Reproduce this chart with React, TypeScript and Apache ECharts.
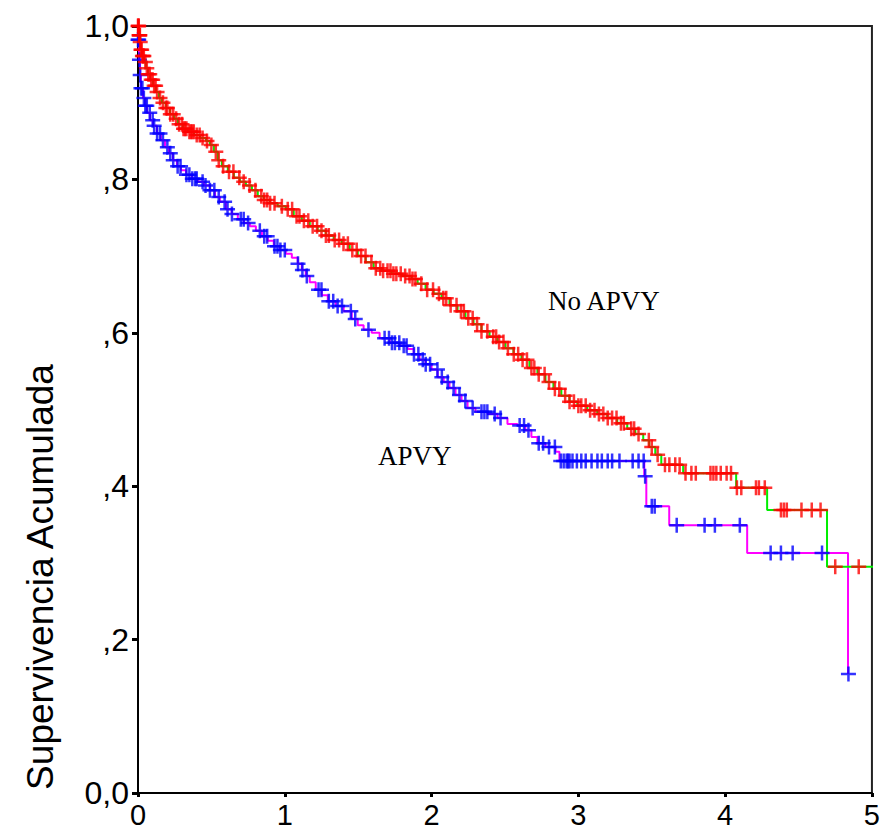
import React, { useEffect, useRef } from "react";
import * as echarts from "echarts";

// Kaplan-Meier step vertices: time (years) and cumulative survival after that time
const noApvyTimes = [0, 0.007, 0.014, 0.02, 0.027, 0.041, 0.054, 0.068, 0.082, 0.102, 0.122, 0.143, 0.163, 0.19, 0.218, 0.245, 0.272, 0.306, 0.34, 0.381, 0.422, 0.463, 0.49, 0.517, 0.544, 0.571, 0.612, 0.653, 0.694, 0.735, 0.776, 0.816, 0.857, 0.898, 0.952, 1.007, 1.061, 1.116, 1.17, 1.224, 1.279, 1.333, 1.388, 1.442, 1.497, 1.551, 1.605, 1.66, 1.728, 1.796, 1.864, 1.905, 1.959, 2.014, 2.068, 2.122, 2.177, 2.231, 2.286, 2.34, 2.395, 2.449, 2.503, 2.558, 2.612, 2.667, 2.721, 2.776, 2.83, 2.884, 2.939, 2.993, 3.061, 3.129, 3.197, 3.265, 3.333, 3.388, 3.442, 3.483, 3.524, 3.565, 3.714, 4.075, 4.286, 4.694, 5.068];
const noApvySurv = [1.0, 0.988, 0.979, 0.969, 0.961, 0.953, 0.945, 0.937, 0.93, 0.922, 0.914, 0.906, 0.9, 0.893, 0.885, 0.879, 0.872, 0.866, 0.862, 0.858, 0.854, 0.85, 0.845, 0.836, 0.825, 0.817, 0.81, 0.802, 0.797, 0.792, 0.786, 0.778, 0.773, 0.769, 0.765, 0.761, 0.752, 0.746, 0.739, 0.733, 0.727, 0.721, 0.716, 0.708, 0.7, 0.692, 0.684, 0.681, 0.677, 0.674, 0.67, 0.664, 0.656, 0.651, 0.645, 0.636, 0.628, 0.619, 0.611, 0.602, 0.595, 0.588, 0.58, 0.572, 0.565, 0.554, 0.546, 0.536, 0.527, 0.518, 0.51, 0.505, 0.499, 0.494, 0.489, 0.482, 0.475, 0.468, 0.46, 0.451, 0.441, 0.428, 0.417, 0.398, 0.369, 0.295, 0.295];

const apvyTimes = [0, 0, 0.007, 0.014, 0.02, 0.034, 0.048, 0.061, 0.082, 0.102, 0.129, 0.156, 0.184, 0.211, 0.238, 0.265, 0.293, 0.327, 0.367, 0.408, 0.449, 0.49, 0.524, 0.558, 0.599, 0.639, 0.68, 0.721, 0.762, 0.803, 0.844, 0.884, 0.925, 0.966, 1.007, 1.048, 1.088, 1.116, 1.143, 1.17, 1.211, 1.252, 1.293, 1.347, 1.401, 1.456, 1.497, 1.537, 1.592, 1.646, 1.714, 1.782, 1.837, 1.878, 1.918, 1.959, 2.0, 2.041, 2.082, 2.122, 2.163, 2.204, 2.245, 2.299, 2.381, 2.449, 2.517, 2.585, 2.639, 2.68, 2.721, 2.776, 2.844, 2.871, 3.449, 3.463, 3.619, 4.15, 4.837];
const apvySurv = [1.0, 0.982, 0.956, 0.936, 0.919, 0.906, 0.896, 0.887, 0.877, 0.87, 0.86, 0.851, 0.842, 0.834, 0.825, 0.817, 0.812, 0.806, 0.801, 0.797, 0.792, 0.786, 0.777, 0.771, 0.761, 0.755, 0.748, 0.743, 0.739, 0.733, 0.726, 0.72, 0.713, 0.708, 0.703, 0.698, 0.69, 0.682, 0.674, 0.666, 0.656, 0.649, 0.641, 0.635, 0.628, 0.618, 0.61, 0.604, 0.6, 0.593, 0.587, 0.583, 0.579, 0.572, 0.565, 0.559, 0.552, 0.542, 0.536, 0.528, 0.519, 0.511, 0.502, 0.497, 0.494, 0.489, 0.481, 0.479, 0.473, 0.464, 0.456, 0.451, 0.445, 0.433, 0.413, 0.374, 0.349, 0.313, 0.155];

// Censored observation times
const noApvyCensored = [0, 0.003, 0.005, 0.007, 0.01, 0.013, 0.015, 0.02, 0.025, 0.03, 0.035, 0.04, 0.05, 0.06, 0.07, 0.08, 0.09, 0.1, 0.11, 0.12, 0.13, 0.15, 0.17, 0.19, 0.2, 0.22, 0.24, 0.26, 0.28, 0.3, 0.31, 0.32, 0.33, 0.35, 0.36, 0.37, 0.38, 0.4, 0.42, 0.44, 0.47, 0.5, 0.53, 0.55, 0.58, 0.62, 0.65, 0.69, 0.72, 0.76, 0.8, 0.84, 0.86, 0.88, 0.9, 0.93, 0.98, 1.02, 1.05, 1.08, 1.1, 1.13, 1.16, 1.19, 1.22, 1.25, 1.28, 1.3, 1.34, 1.37, 1.4, 1.43, 1.46, 1.49, 1.52, 1.55, 1.59, 1.62, 1.65, 1.67, 1.7, 1.72, 1.74, 1.76, 1.79, 1.82, 1.85, 1.87, 1.89, 1.93, 1.97, 2.01, 2.05, 2.08, 2.1, 2.13, 2.17, 2.2, 2.22, 2.25, 2.28, 2.31, 2.34, 2.38, 2.42, 2.44, 2.46, 2.49, 2.52, 2.56, 2.59, 2.62, 2.65, 2.68, 2.7, 2.73, 2.77, 2.8, 2.84, 2.87, 2.91, 2.94, 2.97, 3.0, 3.02, 3.05, 3.08, 3.11, 3.14, 3.17, 3.2, 3.23, 3.26, 3.29, 3.31, 3.36, 3.38, 3.41, 3.48, 3.5, 3.54, 3.59, 3.62, 3.66, 3.69, 3.73, 3.77, 3.8, 3.9, 3.92, 3.94, 3.97, 4.01, 4.04, 4.08, 4.11, 4.21, 4.23, 4.27, 4.38, 4.4, 4.42, 4.52, 4.59, 4.65, 4.75, 4.91];
const apvyCensored = [0, 0.005, 0.01, 0.015, 0.02, 0.03, 0.04, 0.05, 0.06, 0.08, 0.1, 0.11, 0.13, 0.15, 0.17, 0.2, 0.22, 0.24, 0.27, 0.29, 0.33, 0.35, 0.37, 0.39, 0.4, 0.44, 0.46, 0.49, 0.52, 0.55, 0.59, 0.61, 0.64, 0.7, 0.72, 0.75, 0.83, 0.86, 0.88, 0.93, 0.95, 0.97, 1.0, 1.09, 1.12, 1.15, 1.23, 1.25, 1.3, 1.33, 1.36, 1.39, 1.45, 1.48, 1.57, 1.68, 1.71, 1.73, 1.75, 1.78, 1.81, 1.83, 1.88, 1.91, 1.94, 1.96, 1.99, 2.04, 2.07, 2.11, 2.15, 2.19, 2.23, 2.28, 2.34, 2.36, 2.38, 2.43, 2.47, 2.6, 2.63, 2.66, 2.73, 2.76, 2.8, 2.84, 2.88, 2.9, 2.92, 2.93, 2.94, 2.96, 2.99, 3.02, 3.05, 3.09, 3.13, 3.16, 3.2, 3.23, 3.28, 3.37, 3.41, 3.445, 3.455, 3.5, 3.52, 3.67, 3.86, 3.93, 4.1, 4.31, 4.38, 4.46, 4.66, 4.84];

const xTickValues = [0, 1, 2, 3, 4, 5];
const yTickLabels = ["0,0", ",2", ",4", ",6", ",8", "1,0"];
const groupLabels = ["No APVY", "APVY"];
const yTitle = "Supervivencia Acumulada";

const PLUS = "path://M-1.25,-7.5L1.25,-7.5L1.25,-1.25L7.5,-1.25L7.5,1.25L1.25,1.25L1.25,7.5L-1.25,7.5L-1.25,1.25L-7.5,1.25L-7.5,-1.25L-1.25,-1.25Z";

function survAt(times: number[], surv: number[], t: number): number {
  let v = surv[0];
  for (let i = 0; i < times.length; i++) {
    if (times[i] <= t) v = surv[i];
    else break;
  }
  return v;
}

export default function App() {
  const ref = useRef<HTMLDivElement>(null);
  useEffect(() => {
    if (!ref.current) return;
    const chart = echarts.init(ref.current, null, { renderer: "svg" });
    const sans = "'Liberation Sans', Arial, sans-serif";
    const serif = "'Liberation Serif', 'Times New Roman', serif";
    const option: any = {
      animation: false,
      backgroundColor: "#ffffff",
      grid: {
        left: 138,
        right: 9,
        top: 26,
        bottom: 41,
        show: true,
        borderColor: "#222",
        borderWidth: 2,
        backgroundColor: "transparent",
      },
      xAxis: {
        type: "value",
        min: 0,
        max: 5,
        interval: 1,
        axisLine: { show: true, onZero: false, lineStyle: { color: "#000", width: 2 } },
        axisTick: { show: true, length: 4, lineStyle: { color: "#000", width: 3 } },
        splitLine: { show: false },
        axisLabel: {
          margin: 7,
          color: "#000",
          fontFamily: sans,
          fontSize: 29,
          lineHeight: 30,
          formatter: (v: number) => (xTickValues.includes(v) ? String(v) : ""),
        },
      },
      yAxis: {
        type: "value",
        min: 0,
        max: 1,
        interval: 0.2,
        axisLine: { show: true, onZero: false, lineStyle: { color: "#000", width: 2 } },
        axisTick: { show: true, length: 6, lineStyle: { color: "#000", width: 3 } },
        splitLine: { show: false },
        axisLabel: {
          margin: 9,
          color: "#000",
          fontFamily: sans,
          fontSize: 32,
          formatter: (v: number) => yTickLabels[Math.round(v * 5)] ?? "",
        },
      },
      series: [
        {
          name: groupLabels[1] + " line",
          type: "line",
          step: "end",
          symbol: "none",
          clip: false,
          lineStyle: { color: "#ff00ff", width: 2 },
          data: apvyTimes.map((t, i) => [t, apvySurv[i]]),
          z: 2,
        },
        {
          name: groupLabels[0] + " line",
          type: "line",
          step: "end",
          symbol: "none",
          clip: false,
          lineStyle: { color: "#00ee00", width: 2 },
          data: noApvyTimes.map((t, i) => [t, noApvySurv[i]]),
          z: 2,
        },
        {
          name: groupLabels[1] + " censored",
          type: "scatter",
          symbol: PLUS,
          symbolSize: 15,
          itemStyle: { color: "#0000ff" },
          data: apvyCensored.map((t) => [t, survAt(apvyTimes, apvySurv, t)]),
          z: 3,
        },
        {
          name: groupLabels[0] + " censored",
          type: "scatter",
          symbol: PLUS,
          symbolSize: 15,
          itemStyle: { color: "#ff0000" },
          data: noApvyCensored.map((t) => [t, survAt(noApvyTimes, noApvySurv, t)]),
          z: 4,
        },
      ],
      graphic: [
        {
          type: "text",
          x: 40,
          y: 577,
          rotation: Math.PI / 2,
          style: {
            text: yTitle,
            font: "37px " + sans,
            fill: "#000",
            textAlign: "center",
            textVerticalAlign: "middle",
          },
        },
        {
          type: "text",
          x: 548,
          y: 301,
          style: {
            text: groupLabels[0],
            font: "27px " + serif,
            fill: "#000",
            textAlign: "left",
            textVerticalAlign: "middle",
          },
        },
        {
          type: "text",
          x: 378,
          y: 456,
          style: {
            text: groupLabels[1],
            font: "27px " + serif,
            fill: "#000",
            textAlign: "left",
            textVerticalAlign: "middle",
          },
        },
      ],
    };
    chart.setOption(option);
    return () => chart.dispose();
  }, []);
  return (
    <div
      ref={ref}
      style={{ position: "absolute", left: 0, top: 0, width: 883, height: 834, background: "#fff" }}
    />
  );
}
